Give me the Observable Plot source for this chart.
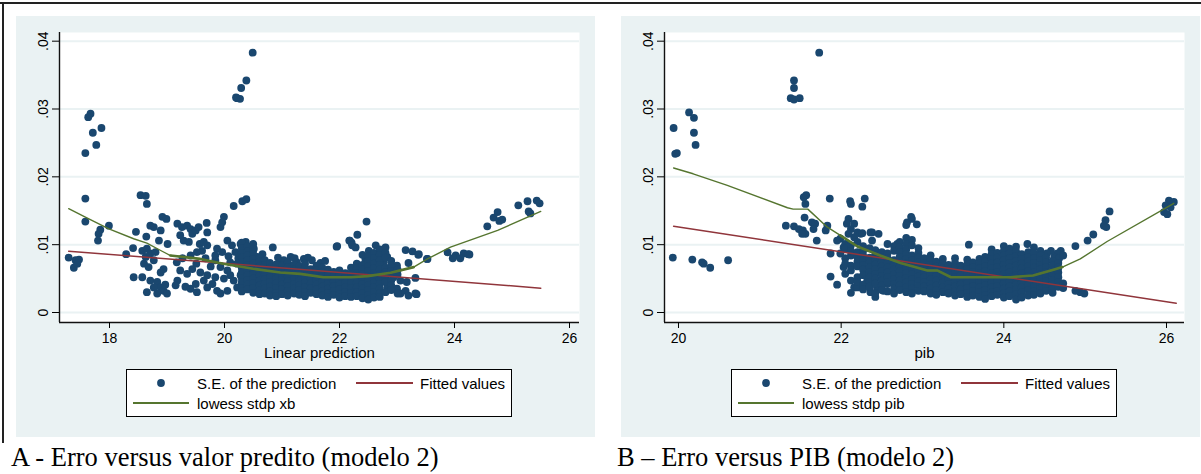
<!DOCTYPE html>
<html><head><meta charset="utf-8">
<script src="https://cdn.jsdelivr.net/npm/d3@7"></script>
<script src="https://cdn.jsdelivr.net/npm/@observablehq/plot@0.6"></script>
<style>
body{margin:0;background:#fff;}
#root{position:relative;width:1201px;height:474px;overflow:hidden;font-family:"Liberation Sans",Arial,sans-serif;}
.panel{position:absolute;top:16px;width:579px;height:421px;background:#eaf2f3;}
.panel svg.plot{position:absolute;left:0;top:0;}
.legend{position:absolute;left:110px;top:353px;width:386px;height:48px;border:1.5px solid #000;background:#fff;box-sizing:border-box;}
.legend svg{position:absolute;left:0;top:0;}
.caption{position:absolute;top:444px;font-family:"Liberation Serif","Times New Roman",serif;font-size:26.5px;line-height:26px;white-space:nowrap;color:#000;}
.bordertop{position:absolute;left:0;top:2px;width:1201px;height:1.5px;background:#222;}
.borderleft{position:absolute;left:2px;top:2px;width:1.5px;height:441px;background:#222;}
</style></head>
<body><div id="root">
<div class="bordertop"></div><div class="borderleft"></div>
<div class="panel" id="pA" style="left:16px"></div>
<div class="panel" id="pB" style="left:621px"></div>
<div class="caption" style="left:11px">A - Erro versus valor predito (modelo 2)</div>
<div class="caption" style="left:617px">B – Erro versus PIB (modelo 2)</div>
</div>
<script>
// ---------- shared ----------
const yTicks = [0, 0.01, 0.02, 0.03, 0.04];
const yDomain = [-0.001474, 0.04128];

// ---------- Panel A : S.E. vs linear prediction ----------
const xTicksA = [18, 20, 22, 24, 26];
const xDomainA = [17.1304, 26.1739];
const seA = [
[20.49,.0383],[20.38,.0342],[20.29,.0331],[20.22,.0316],[20.27,.0315],[20.20,.0317],
[17.67,.0293],[17.63,.0288],[17.86,.0272],[17.71,.0265],[17.77,.0247],[17.58,.0235],
[17.58,.0168],[17.58,.0134],[18.54,.0173],[18.63,.0172],[18.65,.0160],
[20.16,.0157],[20.31,.0164],[20.38,.0167],
[25.11,.0158],[25.27,.0164],[25.43,.0165],[25.48,.0161],[25.29,.0149],[25.32,.0146],
[24.75,.0148],[24.68,.0140],[24.78,.0135],[24.83,.0137],[24.57,.0127],
[24.26,.00855],[23.88,.00885],[24.02,.0084],[24.16,.0087],[23.97,.0080],[24.10,.0080],[24.24,.0086],
[23.53,.0079],[22.47,.0134],[22.31,.01146],[22.17,.0106],[22.21,.0103],[21.95,.0097],
[23.15,.0092],[23.27,.0090],[23.37,.0085],[23.32,.0051],[23.34,.0027],
[17.84,.0122],[17.81,.0116],[17.99,.0128],[17.80,.0106],[17.29,.0081],[17.41,.0077],[17.47,.0078],[17.38,.0066],[17.44,.0072],
[18.29,.0086],[18.41,.0095],[18.46,.0119],[18.42,.0052],[18.64,.0112],[18.71,.0128],[18.77,.0126],[18.92,.0141],[18.99,.0138],[18.89,.0121],[18.86,.0106],[19.01,.0101],
[18.57,.0091],[18.65,.0094],[18.63,.0082],[18.71,.0087],[18.77,.0077],[18.60,.0072],[18.68,.0067],[18.80,.0089],
[18.94,.0064],[18.89,.0059],
[18.57,.0052],[18.71,.0047],[18.83,.0045],[18.89,.0037],[18.94,.0032],[18.65,.0030],[18.83,.0028],[19.00,.0028],[18.77,.0037],[18.97,.0041],
[19.18,.0131],[19.26,.0126],[19.35,.0128],[19.41,.0123],[19.44,.0116],[19.50,.0121],[19.55,.0126],[19.29,.0106],[19.38,.0104],[19.23,.0114],[19.69,.0132],[19.70,.0118],[19.57,.0101],[19.61,.0091],[19.52,.0089],[19.70,.0099],[19.64,.0104],
[19.93,.0126],[19.99,.0141],[19.96,.0133],
[20.05,.0106],[20.13,.0099],[20.28,.0101],[20.37,.0096],[20.42,.0089],[20.51,.0094],[20.57,.0082],[20.31,.0084],[20.19,.0089],[19.87,.0094],[19.96,.0089],[19.84,.0077],[19.93,.0067],[20.05,.0062],[20.10,.0074],[20.22,.0072],[20.33,.0067],[20.48,.0069],[20.60,.0074],[20.57,.0062],
[19.18,.0047],[19.15,.0040],[19.32,.0038],[19.41,.0035],[19.50,.0042],[19.64,.0047],[19.70,.0037],[19.79,.0042],[19.87,.0032],[19.93,.0028],[20.05,.0032],[20.16,.0047],[20.22,.0037],[20.31,.0045],[20.39,.0037],[20.51,.0047],[20.57,.0032],[19.52,.0030],[19.23,.0062],[19.35,.0057],[19.44,.0064],[19.58,.0059],[19.70,.0055],[19.84,.0052],[19.99,.0050],[20.10,.0055],[20.28,.0055],[20.42,.0057],[20.57,.0052],
[19.27,.0080],[19.41,.0084],[19.67,.0080],[19.84,.0084],[20.07,.0083],[20.24,.0080],[20.42,.0080],[19.17,.0074],[19.51,.0072],[19.76,.0068],
[22.18,.0106],[22.22,.0099],[22.28,.0096],[21.96,.0098],[20.84,.0096],
[22.63,.0099],[22.80,.0096],[22.51,.0091],[22.69,.0089],[22.83,.0082],[22.45,.0079],[22.60,.0077],[22.77,.0074],
[23.38,.0086],[23.52,.0079],[23.00,.0069],[23.20,.0073],
[22.83,.0037],[23.00,.0035],[23.15,.0032],[23.32,.0028],[23.06,.0028],[23.20,.0025],[22.83,.0057],[22.94,.0052],[23.06,.0047],[23.17,.0045],
[20.37,.0104],[20.45,.0096],[20.97,.0074],[21.03,.0077],[21.15,.0082],[21.26,.0074],[21.38,.0079],[21.52,.0077],[21.67,.0073],
[20.66,.0086],[20.93,.0081],[21.22,.0080],[21.45,.0081],[21.75,.0076]
];
// dense cloud of panel A, read column by column: [x, [y values]]
const cloudA = [
[20.30,[.0103,.0095,.0088,.0081,.0074,.0066,.0059,.0051,.0044,.0036,.0031]],
[20.40,[.0098,.0090,.0084,.0077,.0070,.0062,.0055,.0048,.0041,.0034]],
[20.50,[.0101,.0093,.0086,.0079,.0072,.0064,.0057,.0050,.0043,.0036,.0029]],
[20.61,[.0081,.0075,.0068,.0061,.0054,.0047,.0040,.0033,.0027]],
[20.70,[.0077,.0070,.0063,.0056,.0049,.0042,.0035,.0028]],
[20.79,[.0073,.0066,.0059,.0052,.0045,.0038,.0031,.0025]],
[20.90,[.0071,.0064,.0057,.0050,.0043,.0036,.0029,.0024]],
[21.00,[.0069,.0062,.0055,.0048,.0041,.0034,.0027]],
[21.10,[.0074,.0067,.0060,.0053,.0046,.0039,.0032,.0025]],
[21.21,[.0070,.0063,.0056,.0049,.0042,.0035,.0028]],
[21.30,[.0068,.0061,.0054,.0047,.0040,.0033,.0026]],
[21.40,[.0072,.0065,.0058,.0051,.0044,.0037,.0030,.0024]],
[21.50,[.0064,.0057,.0050,.0043,.0036,.0029]],
[21.60,[.0069,.0062,.0055,.0048,.0041,.0034,.0027]],
[21.70,[.0066,.0059,.0052,.0045,.0038,.0031,.0025]],
[21.80,[.0063,.0056,.0049,.0042,.0035,.0028,.0023]],
[21.90,[.0060,.0053,.0046,.0039,.0032,.0026]],
[22.00,[.0062,.0055,.0048,.0041,.0034,.0027,.0022]],
[22.10,[.0058,.0051,.0044,.0037,.0030,.0024]],
[22.20,[.0066,.0057,.0050,.0043,.0036,.0029,.0023]],
[22.30,[.0072,.0065,.0058,.0051,.0044,.0037,.0030,.0024]],
[22.40,[.0085,.0070,.0063,.0056,.0049,.0042,.0035,.0028,.0021]],
[22.50,[.0083,.0076,.0068,.0061,.0054,.0047,.0040,.0033,.0026,.0019]],
[22.60,[.0088,.0080,.0072,.0065,.0058,.0051,.0044,.0037,.0030,.0022]],
[22.70,[.0093,.0085,.0077,.0070,.0063,.0056,.0049,.0042,.0035,.0028,.0023]],
[22.80,[.0088,.0081,.0066,.0059,.0052,.0045,.0030]],
[22.90,[.0076,.0069,.0061,.0047,.0040,.0033]],
[23.01,[.0063,.0056,.0028]]
];
const fitA = [[17.29,.00904],[25.50,.00359]];
const lowA = [[17.29,.0153],[17.58,.01406],[17.99,.01234],[18.42,.01087],[18.65,.01023],[18.89,.00914],[19.06,.0084],[19.58,.0079],[19.98,.00718],[20.50,.00644],[20.97,.0059],[21.32,.0057],[21.72,.0052],[22.20,.0052],[22.49,.00536],[22.89,.00585],[23.29,.00669],[23.53,.0079],[23.93,.00963],[24.75,.0121],[25.50,.0149]];

// ---------- Panel B : S.E. vs pib ----------
const xTicksB = [20, 22, 24, 26];
const xDomainB = [19.8279, 26.2213];
const seB = [
[21.73,.0383],[21.42,.0342],[21.42,.0331],[21.38,.0316],[21.42,.0314],[21.49,.0316],
[19.94,.0272],[20.13,.0295],[20.19,.0287],[20.19,.0265],[20.21,.0247],[19.98,.0235],[19.96,.0234],
[19.93,.0081],[20.17,.0078],[20.29,.0074],[20.31,.0072],[20.39,.0066],[20.61,.0077],
[21.32,.0128],[21.42,.0127],[21.48,.0123],[21.53,.0121],[21.56,.0116],[21.52,.0116],
[21.54,.0170],[21.57,.0173],[21.56,.0160],[21.55,.0140],[21.64,.0133],[21.68,.0131],[21.66,.0123],[21.70,.0106],
[21.86,.0168],[21.83,.0128],[21.81,.0121],[21.87,.0087],[21.87,.0053],[21.95,.0041],
[22.11,.0164],[22.12,.0160],[22.29,.0168],[22.26,.0156],
[22.09,.0138],[22.07,.0131],[22.16,.0131],[22.12,.0123],[22.20,.0118],[22.24,.0116],[22.16,.0111],[22.09,.0116],[21.99,.0109],
[21.95,.0106],[22.03,.0096],[21.99,.0087],
[22.38,.0118],[22.46,.0116],[22.69,.0101],[22.26,.0117],[22.36,.0118],[22.38,.0106],
[22.03,.0067],[22.05,.0057],[22.12,.0047],[22.16,.0037],[22.12,.0029],[22.20,.0037],
[22.32,.0047],[22.36,.0030],[22.44,.0037],[22.52,.0032],[22.57,.0042],[22.42,.0023],
[22.81,.0133],[22.87,.0138],[22.93,.0130],[22.86,.0141],[22.80,.0129],
[26.03,.0165],[25.99,.0158],[26.09,.0163],[26.05,.0155],[25.97,.0148],[26.01,.0145],
[25.30,.0149],[25.25,.0136],[25.23,.0128],[25.26,.0126],[25.10,.0115],[25.03,.0106],[24.88,.0098],
[24.94,.0030],[24.88,.0032],[24.99,.0028],
[24.70,.0091],[24.66,.0087],[24.62,.0082],[24.68,.0080],[24.58,.0091],[24.53,.0087],
[24.29,.0101],[23.57,.0100]
];
const cloudB = [
[22.05,[.0101,.0094,.0080,.0072]],
[22.12,[.0099,.0091,.0084,.0069,.0062]],
[22.20,[.0104,.0089,.0082,.0075,.0068,.0052,.0045]],
[22.27,[.0098,.0091,.0084,.0077,.0070,.0063,.0055,.0041,.0034]],
[22.35,[.0095,.0081,.0074,.0067,.0059,.0052,.0045,.0038]],
[22.42,[.0092,.0085,.0078,.0071,.0064,.0057,.0050,.0043,.0029]],
[22.50,[.0089,.0082,.0075,.0068,.0061,.0054,.0047,.0040,.0033]],
[22.57,[.0101,.0087,.0080,.0073,.0066,.0059,.0052,.0045,.0031]],
[22.65,[.0098,.0091,.0077,.0070,.0063,.0056,.0049,.0042,.0035,.0028]],
[22.72,[.0104,.0096,.0089,.0082,.0075,.0068,.0061,.0054,.0047,.0040,.0033]],
[22.80,[.0110,.0101,.0093,.0086,.0079,.0072,.0065,.0058,.0051,.0044,.0037,.0030]],
[22.87,[.0107,.0099,.0084,.0077,.0070,.0063,.0056,.0049,.0042,.0035,.0028]],
[22.95,[.0095,.0088,.0081,.0074,.0067,.0060,.0053,.0046,.0039,.0032]],
[23.02,[.0080,.0073,.0066,.0059,.0052,.0045,.0038,.0031]],
[23.10,[.0084,.0077,.0070,.0063,.0056,.0049,.0042,.0035,.0028]],
[23.17,[.0075,.0068,.0061,.0054,.0047,.0040,.0033,.0026]],
[23.25,[.0079,.0072,.0065,.0058,.0051,.0044,.0037,.0030]],
[23.32,[.0070,.0063,.0056,.0049,.0042,.0035,.0028]],
[23.40,[.0080,.0073,.0066,.0059,.0052,.0045,.0038,.0031,.0025]],
[23.47,[.0069,.0062,.0055,.0048,.0041,.0034,.0027]],
[23.55,[.0078,.0071,.0064,.0057,.0050,.0043,.0036,.0029,.0023]],
[23.62,[.0074,.0067,.0060,.0053,.0046,.0039,.0032,.0025]],
[23.70,[.0079,.0072,.0065,.0058,.0051,.0044,.0037,.0030,.0023]],
[23.77,[.0082,.0075,.0068,.0061,.0054,.0047,.0040,.0033,.0026,.0020]],
[23.85,[.0093,.0086,.0079,.0072,.0065,.0058,.0051,.0044,.0037,.0030,.0024]],
[23.92,[.0088,.0081,.0074,.0067,.0060,.0053,.0046,.0039,.0032,.0026]],
[24.00,[.0098,.0091,.0084,.0077,.0070,.0063,.0056,.0049,.0042,.0035,.0028,.0022]],
[24.07,[.0094,.0087,.0080,.0073,.0066,.0059,.0052,.0045,.0038,.0031,.0024]],
[24.15,[.0097,.0090,.0083,.0076,.0069,.0062,.0055,.0048,.0041,.0034,.0027,.0019]],
[24.22,[.0086,.0079,.0072,.0065,.0058,.0051,.0044,.0037,.0030,.0022]],
[24.30,[.0089,.0082,.0075,.0068,.0061,.0054,.0047,.0040,.0033,.0025]],
[24.37,[.0096,.0087,.0080,.0073,.0066,.0059,.0052,.0045,.0038,.0031,.0026]],
[24.45,[.0091,.0084,.0077,.0070,.0063,.0056,.0049,.0042,.0035,.0028]],
[24.52,[.0081,.0074,.0067,.0060,.0053,.0046,.0039,.0032]],
[24.60,[.0076,.0069,.0062,.0055,.0048,.0041,.0035,.0029]],
[24.67,[.0073,.0066,.0059,.0052,.0045,.0038]],
[24.73,[.0084,.0043,.0036]]
];
const fitB = [[19.94,.01273],[26.12,.00137]];
const lowB = [[19.94,.0213],[20.18,.02045],[20.60,.01873],[21.34,.01544],[21.41,.01524],[21.59,.01524],[21.83,.01258],[21.99,.01136],[22.20,.00973],[22.48,.0084],[22.73,.0073],[23.06,.0062],[23.18,.0062],[23.35,.0052],[24.08,.0052],[24.36,.00546],[24.61,.0063],[24.72,.0067],[24.94,.0079],[25.27,.01047],[26.09,.0161]];

const legendLabelsA = ["S.E. of the prediction", "Fitted values", "lowess stdp xb"];
const legendLabelsB = ["S.E. of the prediction", "Fitted values", "lowess stdp pib"];

const NAVY = "#1a476f", MAROON = "#90353b", OLIVE = "#55752f", BG = "#eaf2f3";
const FONT = "Liberation Sans, Arial, sans-serif";
const fmtY = d => d === 0 ? "0" : d3.format(".2f")(d).replace(/^0/, "");

function expand(cloud){ return cloud.flatMap(([x, ys]) => ys.map(y => [x, y])); }

function panel(el, {pts, cloud, fit, low, thick, xDomain, xTicks, xLabel, legend}){
  const all = pts.concat(expand(cloud));
  const chart = Plot.plot({
    width: 579, height: 360,
    marginLeft: 43, marginRight: 16, marginTop: 16, marginBottom: 54,
    style: {background: "transparent", fontFamily: FONT, fontSize: "14px", color: "#000", overflow: "visible"},
    x: {domain: xDomain}, y: {domain: yDomain},
    marks: [
      Plot.frame({fill: "#fff", stroke: "none"}),
      Plot.ruleY(yTicks, {stroke: BG, strokeWidth: 2}),
      Plot.dot(all, {x: d => d[0], y: d => d[1], r: 3.9, fill: NAVY, stroke: "none"}),
      Plot.line(fit, {x: d => d[0], y: d => d[1], stroke: MAROON, strokeWidth: 1.5}),
      Plot.line(low, {x: d => d[0], y: d => d[1], stroke: OLIVE, strokeWidth: 1.4}),
      Plot.line(low.filter(d => d[0] >= thick[0] && d[0] <= thick[1]), {x: d => d[0], y: d => d[1], stroke: OLIVE, strokeWidth: 2.6}),
      Plot.ruleX([xDomain[0]], {stroke: "#111", strokeWidth: 1.4}),
      Plot.ruleY([yDomain[0]], {stroke: "#111", strokeWidth: 1.4}),
      Plot.axisX({ticks: xTicks, tickSize: 6, tickPadding: 5, tickFormat: d => String(d), label: null, fontSize: 14}),
      Plot.axisY({ticks: yTicks, tickSize: 7, tickFormat: () => "", label: null}),
      Plot.text(yTicks, {y: d => d, frameAnchor: "left", dx: -16, rotate: -90, text: fmtY, textAnchor: "middle", lineAnchor: "middle", fontSize: 14}),
      Plot.text([xLabel], {frameAnchor: "bottom", dy: 31, text: d => d, textAnchor: "middle", lineAnchor: "middle", fontSize: 15})
    ]
  });
  chart.classList.add("plot");
  el.appendChild(chart);

  // legend box
  const lg = document.createElement("div");
  lg.className = "legend";
  const s = d3.create("svg").attr("width", 386).attr("height", 48)
    .style("font-family", FONT).style("font-size", "15px");
  s.append("circle").attr("cx", 34).attr("cy", 13).attr("r", 3.9).attr("fill", NAVY);
  s.append("text").attr("x", 70).attr("y", 19).text(legend[0]);
  s.append("line").attr("x1", 229).attr("x2", 286).attr("y1", 13).attr("y2", 13).attr("stroke", MAROON).attr("stroke-width", 2);
  s.append("text").attr("x", 293).attr("y", 19).text(legend[1]);
  s.append("line").attr("x1", 6).attr("x2", 62).attr("y1", 33).attr("y2", 33).attr("stroke", OLIVE).attr("stroke-width", 2);
  s.append("text").attr("x", 70).attr("y", 39).text(legend[2]);
  lg.appendChild(s.node());
  el.appendChild(lg);
}

panel(document.getElementById("pA"), {pts: seA, cloud: cloudA, fit: fitA, low: lowA, thick: [19.0, 23.3],
  xDomain: xDomainA, xTicks: xTicksA, xLabel: "Linear prediction", legend: legendLabelsA});
panel(document.getElementById("pB"), {pts: seB, cloud: cloudB, fit: fitB, low: lowB, thick: [21.9, 24.75],
  xDomain: xDomainB, xTicks: xTicksB, xLabel: "pib", legend: legendLabelsB});
</script>
</body></html>
